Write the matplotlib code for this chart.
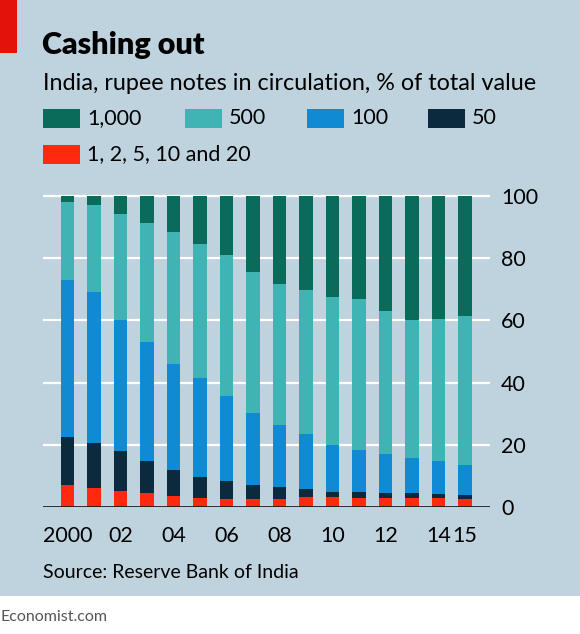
import matplotlib
matplotlib.use("Agg")
import matplotlib.pyplot as plt
import numpy as np
from matplotlib.patches import Rectangle

years = list(range(2000, 2016))
tick_labels = ["2000", "02", "04", "06", "08", "10", "12", "14", "15"]
tick_years = [2000, 2002, 2004, 2006, 2008, 2010, 2012, 2014, 2015]

small = [7.0, 6.1, 5.2, 4.6, 3.5, 2.9, 2.7, 2.7, 2.7, 3.2, 3.2, 3.0, 3.0, 2.8, 2.8, 2.7]
fifty = [15.5, 14.5, 12.8, 10.2, 8.3, 6.6, 5.5, 4.5, 3.6, 2.6, 1.7, 1.8, 1.5, 1.7, 1.3, 1.2]
hundred = [50.5, 48.4, 42.0, 38.1, 34.2, 32.0, 27.4, 23.1, 20.1, 17.6, 15.0, 13.5, 12.5, 11.3, 10.6, 9.6]
five_hundred = [25.2, 28.1, 34.1, 38.5, 42.3, 43.1, 45.5, 45.3, 45.4, 46.3, 47.7, 48.7, 46.1, 44.4, 45.9, 47.8]
thousand = [1.8, 2.9, 5.9, 8.6, 11.7, 15.4, 18.9, 24.4, 28.2, 30.3, 32.4, 33.0, 36.9, 39.8, 39.4, 38.7]

series_names = ["1, 2, 5, 10 and 20", "50", "100", "500", "1,000"]
series = [small, fifty, hundred, five_hundred, thousand]
colors = ["#ff2a0e", "#0c2a3e", "#108ad2", "#40b3b5", "#0b6b5a"]

FONT = "Lato"
bg = "#bfd3df"
W, H = 580, 634

fig = plt.figure(figsize=(W / 100, H / 100), dpi=100, facecolor="white")

def fx(px):
    return px / W

def fy(py):
    return 1 - py / H

# background panel
fig.patches.append(Rectangle((0, fy(596)), 1, 1 - fy(596), transform=fig.transFigure,
                             facecolor=bg, edgecolor="none", zorder=-10))
# red tag
fig.patches.append(Rectangle((0, fy(53)), fx(17), 1 - fy(53), transform=fig.transFigure,
                             facecolor="#e3120b", edgecolor="none", zorder=-5))

# axes
left, right, bottom, top = 43, 490, 507, 194.4
ax = fig.add_axes([fx(left), fy(bottom), fx(right - left), (bottom - top) / H])
ax.set_facecolor("none")
ax.set_zorder(5)

x = np.arange(len(years))
cum = np.zeros(len(years))
for vals, col in zip(series, colors):
    ax.bar(x, vals, width=0.51, bottom=cum, color=col, zorder=3, linewidth=0)
    cum += np.array(vals)

ax.set_xlim((left - 67.5) / 26.5, (right - 67.5) / 26.5)
ax.set_ylim(0, 100.5)
ax.set_yticks([0, 20, 40, 60, 80, 100])
ax.yaxis.tick_right()
ax.yaxis.grid(True, color="white", linewidth=1.6, zorder=1)
ax.set_axisbelow(True)
ax.axhline(0, color="#1a1a1a", linewidth=1.3, zorder=4)
for s in ax.spines.values():
    s.set_visible(False)
ax.set_xticks([years.index(y) for y in tick_years])
ax.set_xticklabels(tick_labels)
ax.tick_params(axis="both", length=0, labelsize=15.5, colors="black")
ax.tick_params(axis="x", pad=14)
ax.tick_params(axis="y", pad=8)
for lab in ax.get_xticklabels() + ax.get_yticklabels():
    lab.set_fontfamily(FONT)

# titles
fig.text(fx(42), fy(54), "Cashing out", fontsize=22, fontweight="heavy", family=FONT,
         va="baseline", ha="left")
fig.text(fx(43), fy(90.5), "India, rupee notes in circulation, % of total value", fontsize=16.8,
         family=FONT, va="baseline", ha="left")

# legend
legend_items = [("1,000", colors[4], 43, 118.5), ("500", colors[3], 185, 118.5),
                ("100", colors[2], 307, 118.5), ("50", colors[1], 428, 118.5),
                ("1, 2, 5, 10 and 20", colors[0], 43, 154.5)]
for name, col, px, py in legend_items:
    fig.patches.append(Rectangle((fx(px), fy(py + 9.5)), fx(37), 19 / H, transform=fig.transFigure,
                                 facecolor=col, edgecolor="none", zorder=2))
    fig.text(fx(px + 44), fy(py), name, fontsize=15.5, family=FONT, va="center", ha="left")

fig.text(fx(43), fy(572), "Source: Reserve Bank of India", fontsize=14, family=FONT,
         va="center", ha="left")
fig.text(fx(0), fy(617), "Economist.com", fontsize=11.5, family=FONT, color="#555555",
         va="center", ha="left")

fig.savefig("out.png", dpi=100, facecolor="white")
